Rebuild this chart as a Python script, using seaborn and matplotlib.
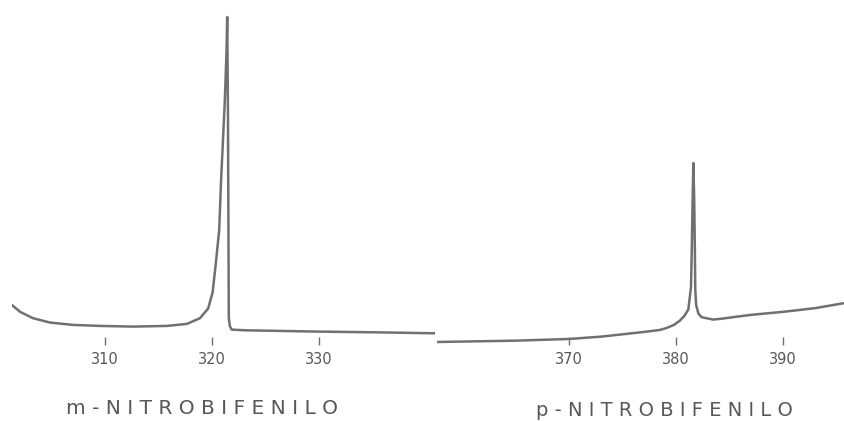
import pandas as pd
import seaborn as sns
import matplotlib.pyplot as plt

# wavelength (nm) and relative intensity
m_wave = [301.31, 302.06, 303.27, 304.86, 307.01, 309.53, 312.62, 315.79, 317.66,
          318.88, 319.65, 320.07, 320.37, 320.68, 320.86, 321.21, 321.37, 321.43,
          321.50, 321.58, 321.68, 321.85, 323.0, 330.0, 335.0, 340.85]
m_int = [11.9, 9.9, 8.0, 6.7, 6.0, 5.7, 5.5, 5.7, 6.3,
         8.0, 10.9, 15.8, 24.5, 34.3, 49.3, 73.1, 88.1, 97.9,
         70.0, 8.0, 5.6, 4.6, 4.4, 4.0, 3.8, 3.5]

p_wave = [357.66, 365.0, 370.0, 373.0, 375.0, 377.0, 378.5, 379.13, 379.8, 380.37,
          380.8, 381.15, 381.40, 381.47, 381.55, 381.62, 381.70, 381.76, 381.80,
          381.88, 382.10, 382.40, 383.46, 384.11, 387.0, 390.0, 393.0, 395.7]
p_int = [0.9, 1.3, 1.8, 2.5, 3.2, 3.9, 4.5, 5.1, 6.0, 7.3,
         8.8, 10.6, 17.3, 28.4, 43.3, 54.3, 43.3, 28.4, 16.4,
         11.9, 9.3, 8.3, 7.6, 7.8, 9.0, 9.9, 11.0, 12.5]

m_ticks = [310, 320, 330]
p_ticks = [370, 380, 390]
titles = ["m-NITROBIFENILO", "p-NITROBIFENILO"]

df_m = pd.DataFrame({"nm": m_wave, "I": m_int})
df_p = pd.DataFrame({"nm": p_wave, "I": p_int})

sns.set_style("white")
plt.rcParams["font.family"] = ["DejaVu Sans"]

line_c = "#707070"
text_c = "#585858"

fig = plt.figure(figsize=(8.44, 4.21), dpi=100)
ax1 = fig.add_axes([0.0142, 0.1805, 0.501, 0.7957])
ax2 = fig.add_axes([0.5178, 0.1805, 0.4822, 0.7957])

panels = [(ax1, df_m, m_ticks, (301.3, 340.85)), (ax2, df_p, p_ticks, (357.66, 395.7))]
for ax, d, ticks, lim in panels:
    sns.lineplot(data=d, x="nm", y="I", ax=ax, color=line_c, linewidth=1.8)
    ax.set_xlim(*lim)
    ax.set_ylim(0, 100)
    ax.set_xticks(ticks)
    ax.set_yticks([])
    ax.set_xlabel("")
    ax.set_ylabel("")
    for s in ax.spines.values():
        s.set_visible(False)
    ax.tick_params(axis="x", direction="in", length=6, width=1, color=line_c,
                   labelsize=10.5, labelcolor=text_c, pad=5, bottom=True)
    ax.patch.set_alpha(0)

fig.text(202 / 844, 1 - 408 / 421, " ".join(titles[0]), ha="center", va="center",
         fontsize=14.5, color=text_c)
fig.text(664 / 844, 1 - 411 / 421, " ".join(titles[1]), ha="center", va="center",
         fontsize=14, color=text_c)

fig.savefig("out.png", dpi=100, facecolor="white")
